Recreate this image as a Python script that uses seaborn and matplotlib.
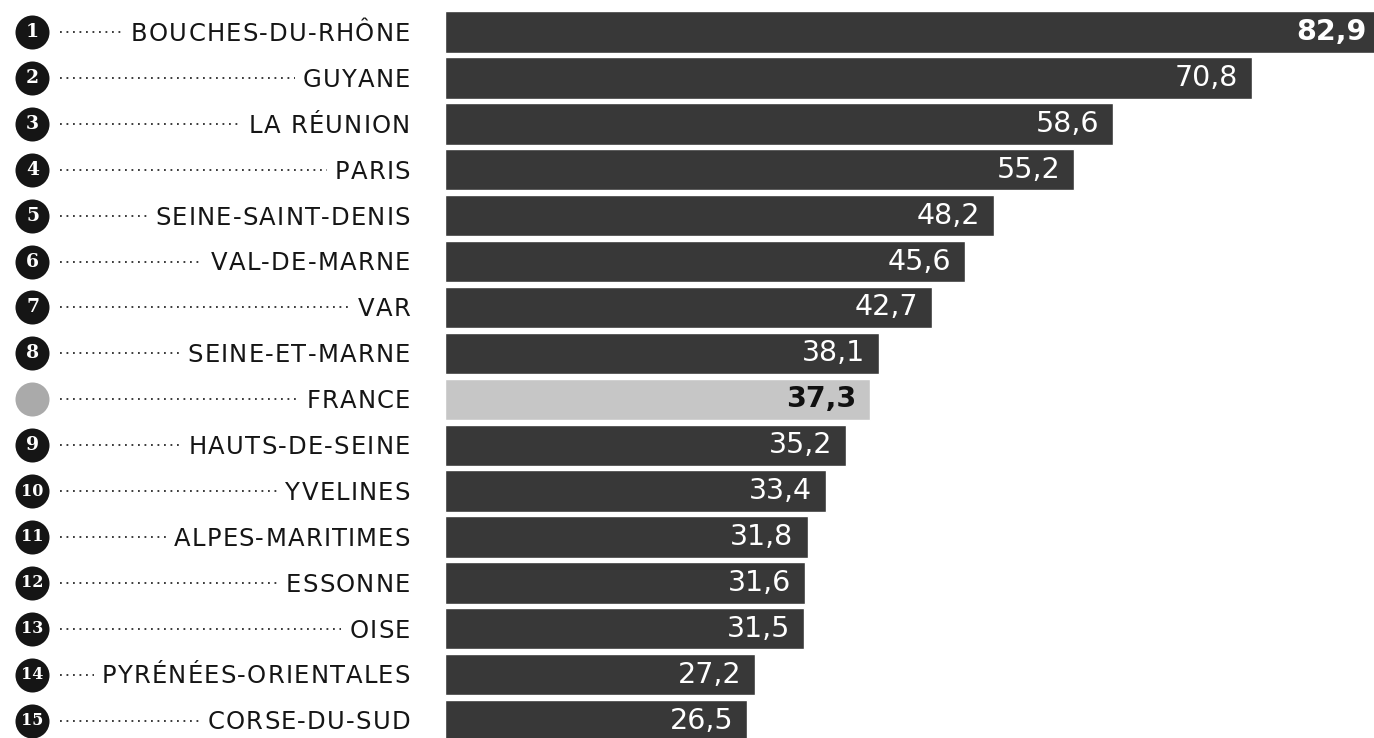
import matplotlib
matplotlib.use("Agg")
import matplotlib.pyplot as plt
import matplotlib.transforms as mtransforms
from matplotlib.font_manager import FontProperties, findfont
from matplotlib.ft2font import FT2Font
import seaborn as sns
import pandas as pd

departements = ["BOUCHES-DU-RHÔNE", "GUYANE", "LA RÉUNION", "PARIS", "SEINE-SAINT-DENIS",
                "VAL-DE-MARNE", "VAR", "SEINE-ET-MARNE", "FRANCE", "HAUTS-DE-SEINE",
                "YVELINES", "ALPES-MARITIMES", "ESSONNE", "OISE", "PYRÉNÉES-ORIENTALES",
                "CORSE-DU-SUD"]
valeurs = [82.9, 70.8, 58.6, 55.2, 48.2, 45.6, 42.7, 38.1, 37.3, 35.2,
           33.4, 31.8, 31.6, 31.5, 27.2, 26.5]
rangs = ["1", "2", "3", "4", "5", "6", "7", "8", "", "9",
         "10", "11", "12", "13", "14", "15"]

DARK = "#383838"
LIGHT = "#c6c6c6"
colors = {d: (LIGHT if d == "FRANCE" else DARK) for d in departements}

df = pd.DataFrame({"dep": departements, "val": valeurs})

sns.set_style("white")
plt.rcParams["font.family"] = ["DejaVu Sans"]

W, H = 1374, 738
DPI = 100
fig = plt.figure(figsize=(W / DPI, H / DPI), dpi=DPI)
AX_LEFT = 445
ax = fig.add_axes([AX_LEFT / W, 0, 1 - AX_LEFT / W, 1])

sns.barplot(data=df, y="dep", x="val", hue="dep", palette=colors, orient="h",
            order=departements, legend=False, width=0.9, ax=ax, saturation=1)

PX_PER_UNIT = 11.4
XMAX = (W - AX_LEFT) / PX_PER_UNIT
ax.set_xlim(0, XMAX)
ax.set_ylim(15.38, -0.70)
ax.set_axis_off()

# value labels
off = 14 / PX_PER_UNIT
VAL_SIZE = 20.5
for i, (d, v) in enumerate(zip(departements, valeurs)):
    txt = f"{v:.1f}".replace(".", ",")
    if d == "FRANCE":
        ax.text(v - off, i, txt, ha="right", va="center", color="#111111",
                fontsize=VAL_SIZE, fontweight="bold")
    elif v > XMAX:
        ax.text(XMAX - 7 / PX_PER_UNIT, i, txt, ha="right", va="center", color="white",
                fontsize=VAL_SIZE, fontweight="bold")
    else:
        ax.text(v - off, i, txt, ha="right", va="center", color="white",
                fontsize=VAL_SIZE)

# letter-spaced label drawing
LABEL_SIZE = 17.5
SPACING = 1.2
font = FT2Font(findfont(FontProperties(family="DejaVu Sans")))
font.set_size(LABEL_SIZE, DPI)


def advance(ch):
    g = font.load_char(ord(ch))
    return g.linearHoriAdvance / 65536


trans = mtransforms.blended_transform_factory(fig.transFigure, ax.transData)
RIGHT = 410
CX = 32
for i, (d, r) in enumerate(zip(departements, rangs)):
    advs = [advance(c) for c in d]
    total = sum(advs) + SPACING * (len(d) - 1)
    x = RIGHT - total
    start = x
    for c, a in zip(d, advs):
        ax.text(x / W, i + 0.04, c, transform=trans, ha="left", va="center",
                fontsize=LABEL_SIZE, color="#151515", clip_on=False)
        x += a + SPACING
    ax.plot([60 / W, (start - 8) / W], [i, i], transform=trans, clip_on=False,
            color="#2a2a2a", linestyle=(0, (1, 2.6)), linewidth=1.3)
    ax.scatter([CX / W], [i], transform=trans, clip_on=False, s=600,
               color=("#aaaaaa" if d == "FRANCE" else "#151515"), zorder=5,
               linewidths=0)
    if r:
        ax.text((CX + 0.5) / W, i, r, transform=trans, ha="center", va="center",
                fontsize=11.5 if len(r) > 1 else 13.5, fontweight="bold",
                family="DejaVu Serif", color="white", zorder=6)

fig.savefig("out.png", dpi=DPI)
